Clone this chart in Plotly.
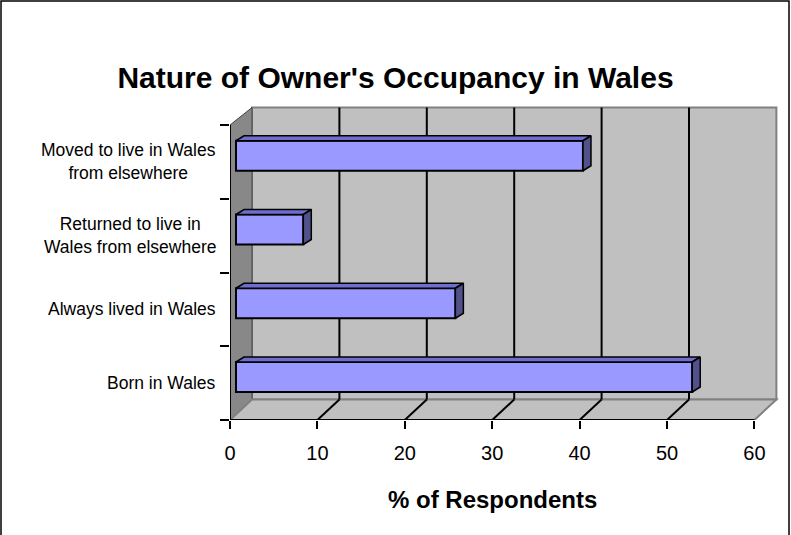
import plotly.graph_objects as go

# data (bottom to top, like the chart)
categories = ["Born in Wales", "Always lived in Wales",
              "Returned to live in<br>Wales from elsewhere",
              "Moved to live in Wales<br>from elsewhere"]
pct_respondents = [52.2, 25.1, 7.7, 39.7]
x_ticks = [0, 10, 20, 30, 40, 50, 60]

FONT = "Liberation Sans, Arial, sans-serif"
W, H = 791, 535
L, R, T, B = 230, 11, 105, 115
PW, PH = W - L - R, H - T - B
PX_X, PX_Y = 8.74, 73.75          # pixels per data unit on each axis
x_max = x_ticks[-1]
n_cat = len(categories)

# 3d look: depth of the walls and of the bars, in data units
wall_dx = 22 / PX_X
wall_dy_bot, wall_dy_top = 20.5 / PX_Y, 17.5 / PX_Y
bar_x0 = 6 / PX_X
bar_lo, bar_hi = 28 / PX_Y, 58 / PX_Y
bar_dx, bar_dy = 8 / PX_X, 5 / PX_Y

FRONT, TOP, SIDE = "#9999FF", "#6E6ECF", "#51518C"


def poly(pts, close=True):
    return "M " + " L ".join(f"{x},{y}" for x, y in pts) + (" Z" if close else "")


shapes = []
# back wall, left wall, floor
shapes.append(dict(type="path", layer="below", xref="x", yref="y",
                   path=poly([(wall_dx, wall_dy_bot), (x_max + wall_dx, wall_dy_bot),
                              (x_max + wall_dx, n_cat + wall_dy_top), (wall_dx, n_cat + wall_dy_top)]),
                   fillcolor="#C0C0C0", line=dict(color="#808080", width=2)))
shapes.append(dict(type="path", layer="below", xref="x", yref="y",
                   path=poly([(0, 0), (wall_dx, wall_dy_bot), (wall_dx, n_cat + wall_dy_top), (0, n_cat)]),
                   fillcolor="#888888", line=dict(color="#444444", width=1)))
shapes.append(dict(type="path", layer="below", xref="x", yref="y",
                   path=poly([(0, 0), (x_max, 0), (x_max + wall_dx, wall_dy_bot), (wall_dx, wall_dy_bot)]),
                   fillcolor="#C0C0C0", line=dict(color="#808080", width=2)))
# gridlines on back wall + diagonals on the floor
for v in x_ticks[1:-1]:
    shapes.append(dict(type="line", layer="below", xref="x", yref="y",
                       x0=v + wall_dx, x1=v + wall_dx, y0=wall_dy_bot, y1=n_cat + wall_dy_top,
                       line=dict(color="black", width=2)))
    shapes.append(dict(type="line", layer="below", xref="x", yref="y",
                       x0=v, x1=v + wall_dx, y0=0, y1=wall_dy_bot,
                       line=dict(color="black", width=2)))
# front axis lines
shapes.append(dict(type="line", xref="x", yref="y", x0=0, x1=x_max, y0=0, y1=0,
                   line=dict(color="black", width=2)))
shapes.append(dict(type="line", xref="x", yref="y", x0=0, x1=0, y0=0, y1=n_cat,
                   line=dict(color="black", width=2)))
# frame round the chart (bottom edge is cut off in the reference)
fx0, fx1 = (1 - L) / PW, (W - 2 - L) / PW
fy0, fy1 = (H - B - H - 2) / PH, (H - B - 1) / PH
shapes.append(dict(type="path", xref="paper", yref="paper",
                   path=poly([(fx0, fy0), (fx0, fy1), (fx1, fy1), (fx1, fy0)], close=False),
                   line=dict(color="black", width=1.5)))

fig = go.Figure()

y_mid = [i + (bar_lo + bar_hi) / 2 for i in range(n_cat)]
fig.add_trace(go.Bar(orientation="h", y=y_mid, x=pct_respondents, base=bar_x0,
                     width=bar_hi - bar_lo, marker=dict(color=FRONT, line=dict(color="black", width=2)),
                     hoverinfo="x", showlegend=False))

top_x, top_y, side_x, side_y = [], [], [], []
for i, v in enumerate(pct_respondents):
    x0, x1 = bar_x0, bar_x0 + v
    y0, y1 = i + bar_lo, i + bar_hi
    top_x += [x0, x1, x1 + bar_dx, x0 + bar_dx, x0, None]
    top_y += [y1, y1, y1 + bar_dy, y1 + bar_dy, y1, None]
    side_x += [x1, x1 + bar_dx, x1 + bar_dx, x1, x1, None]
    side_y += [y0, y0 + bar_dy, y1 + bar_dy, y1, y0, None]

fig.add_trace(go.Scatter(x=top_x, y=top_y, mode="lines", fill="toself", fillcolor=TOP,
                         line=dict(color="black", width=1.5), hoverinfo="skip", showlegend=False))
fig.add_trace(go.Scatter(x=side_x, y=side_y, mode="lines", fill="toself", fillcolor=SIDE,
                         line=dict(color="black", width=1.5), hoverinfo="skip", showlegend=False))

annotations = []
for i, c in enumerate(categories):
    annotations.append(dict(x=0, y=i + 0.5, xref="x", yref="y", text=c, showarrow=False,
                            xanchor="right", yanchor="middle", align="center", xshift=-12,
                            font=dict(family=FONT, size=17.5, color="black")))
annotations.append(dict(x=x_max / 2, y=(H - B - 499) / PH, xref="x", yref="paper",
                        text="<b>% of Respondents</b>", showarrow=False,
                        xanchor="center", yanchor="middle",
                        font=dict(family=FONT, size=24, color="black")))

fig.update_layout(
    width=W, height=H,
    margin=dict(l=L, r=R, t=T, b=B),
    paper_bgcolor="white", plot_bgcolor="white",
    title=dict(text="<b>Nature of Owner's Occupancy in Wales</b>", x=0.5, xref="container",
               y=1 - 77 / H, yref="container", xanchor="center", yanchor="middle",
               font=dict(family=FONT, size=30, color="black")),
    xaxis=dict(range=[0, PW / PX_X], tickvals=x_ticks, ticks="outside", ticklen=8,
               tickwidth=2, tickcolor="black", showgrid=False, zeroline=False, showline=False,
               ticklabelstandoff=7,
               tickfont=dict(family=FONT, size=20, color="black"), fixedrange=True),
    yaxis=dict(range=[0, PH / PX_Y], tickvals=list(range(n_cat + 1)), ticks="outside",
               ticklen=9, tickwidth=2, tickcolor="black", showticklabels=False,
               showgrid=False, zeroline=False, showline=False, fixedrange=True),
    shapes=shapes,
    annotations=annotations,
    showlegend=False,
)

# the page's default body margin would push the chart 8px off
fig.write_html("out.html", config={"displayModeBar": False},
               post_script="document.body.style.margin='0';")
